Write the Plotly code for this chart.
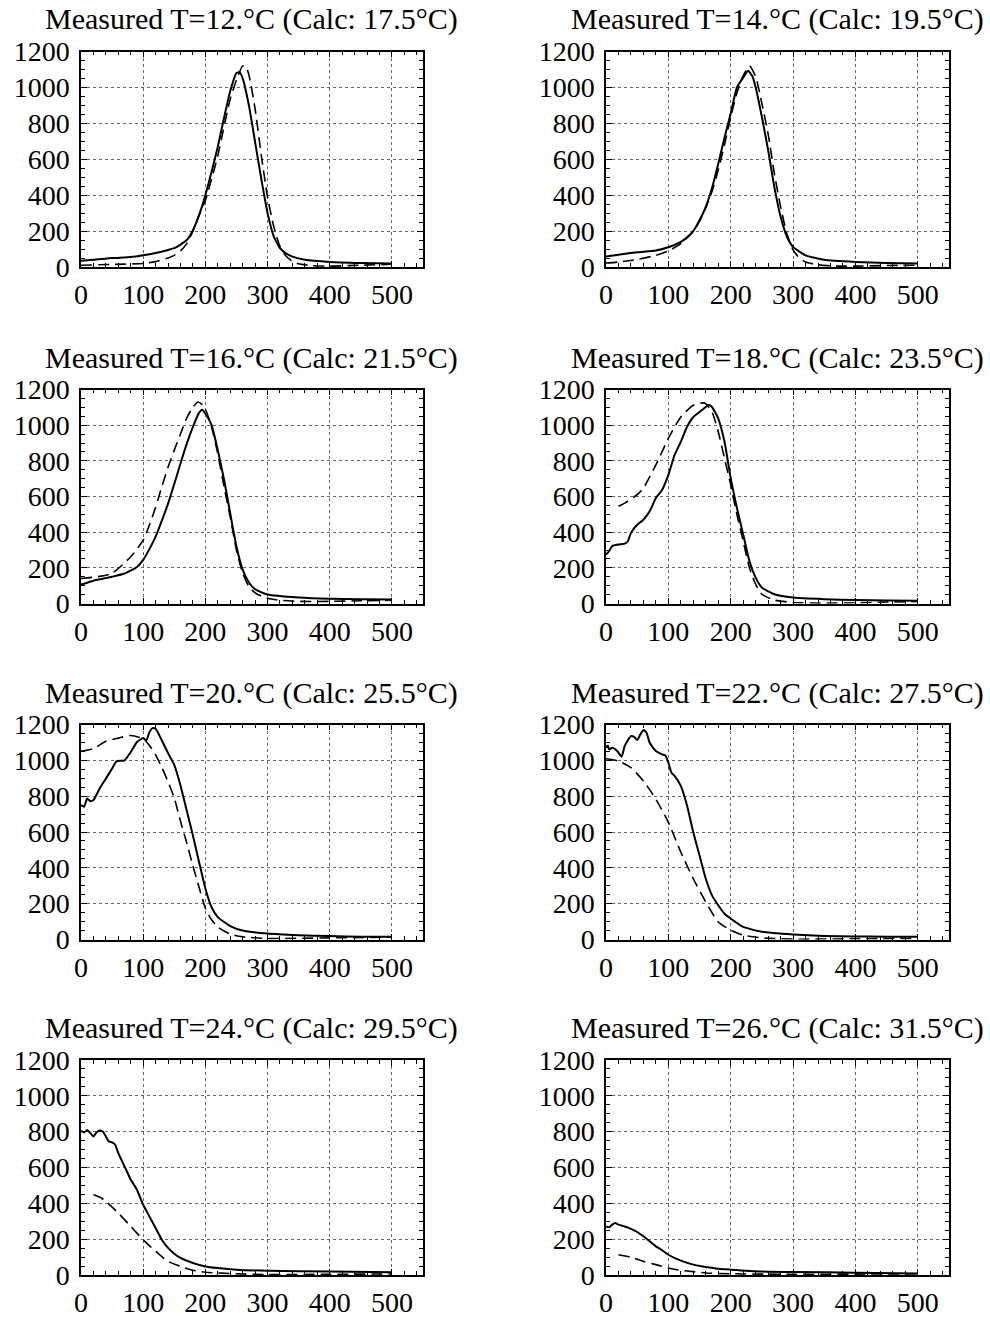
import plotly.graph_objects as go

# ---- titles -------------------------------------------------------------
titles = [
    "Measured T=12.°C (Calc: 17.5°C)",
    "Measured T=14.°C (Calc: 19.5°C)",
    "Measured T=16.°C (Calc: 21.5°C)",
    "Measured T=18.°C (Calc: 23.5°C)",
    "Measured T=20.°C (Calc: 25.5°C)",
    "Measured T=22.°C (Calc: 27.5°C)",
    "Measured T=24.°C (Calc: 29.5°C)",
    "Measured T=26.°C (Calc: 31.5°C)",
]

# ---- measured (solid) and calculated (dashed) profiles ------------------
t12_meas_x = [0, 20, 50, 80, 100, 120, 140, 150, 160, 170, 180, 190, 200, 210, 220, 230, 240, 250, 255, 260,
              270, 280, 290, 300, 310, 320, 330, 340, 360, 400, 450, 500]
t12_meas_y = [35, 40, 50, 55, 65, 78, 95, 105, 125, 150, 205, 290, 400, 530, 670, 830, 980, 1080, 1085, 1050,
              900, 695, 490, 300, 170, 105, 75, 58, 40, 28, 22, 19]
t12_calc_x = [0, 50, 100, 120, 140, 150, 160, 170, 180, 190, 200, 210, 220, 230, 240, 250, 260, 265, 270, 280,
              290, 300, 310, 320, 330, 340, 350, 370, 400, 450, 500]
t12_calc_y = [10, 14, 20, 30, 50, 65, 90, 130, 200, 290, 370, 490, 620, 780, 935, 1040, 1120, 1118, 1070, 880,
              620, 390, 225, 115, 60, 32, 18, 8, 5, 10, 15]

t14_meas_x = [0, 20, 50, 80, 100, 120, 130, 140, 150, 160, 170, 180, 190, 200, 210, 220, 228, 235, 240, 250,
              260, 270, 280, 290, 300, 320, 350, 400, 450, 500]
t14_meas_y = [59, 68, 82, 92, 110, 140, 165, 200, 260, 335, 440, 575, 720, 855, 1000, 1055, 1093, 1060, 1000, 835,
              650, 445, 280, 170, 112, 65, 40, 28, 22, 19]
t14_calc_x = [0, 20, 50, 80, 100, 120, 140, 150, 160, 170, 180, 190, 200, 210, 220, 230, 240, 250, 260, 270,
              280, 290, 300, 310, 320, 340, 370, 400, 450, 500]
t14_calc_y = [22, 28, 42, 65, 90, 130, 200, 255, 330, 420, 540, 680, 835, 970, 1065, 1120, 1060, 910, 740, 520,
              335, 185, 95, 50, 28, 12, 5, 5, 8, 10]

t16_meas_x = [0, 20, 50, 70, 90, 100, 110, 120, 130, 140, 150, 160, 170, 180, 190, 195, 200, 210, 220, 230,
              240, 250, 260, 270, 280, 300, 350, 400, 450, 500]
t16_meas_y = [106, 128, 150, 168, 205, 245, 305, 375, 465, 560, 670, 785, 895, 990, 1070, 1087, 1065, 1000, 860, 695,
              505, 320, 190, 118, 80, 50, 33, 26, 24, 22]
t16_calc_x = [0, 30, 50, 80, 100, 110, 120, 130, 140, 150, 160, 170, 180, 188, 195, 200, 210, 220, 230, 240,
              250, 260, 270, 280, 290, 300, 320, 350, 400, 450, 500]
t16_calc_y = [140, 152, 170, 262, 355, 440, 540, 655, 765, 860, 950, 1040, 1100, 1130, 1115, 1090, 990, 840, 655, 485,
              300, 170, 95, 60, 42, 30, 18, 12, 12, 15, 18]

t18_meas_x = [0, 5, 10, 20, 30, 35, 40, 50, 60, 70, 80, 90, 100, 110, 120, 130, 140, 150, 160, 165,
              170, 180, 190, 200, 210, 220, 230, 240, 250, 270, 300, 350, 400, 450, 500]
t18_meas_y = [275, 294, 322, 331, 336, 349, 396, 442, 470, 517, 591, 637, 721, 833, 907, 991, 1046, 1074, 1102, 1115,
              1102, 1037, 907, 703, 535, 387, 238, 145, 89, 52, 33, 24, 19, 17, 15]
t18_calc_x = [20, 30, 50, 60, 80, 100, 120, 140, 155, 160, 170, 180, 190, 200, 210, 220, 230, 240, 250, 270,
              300, 350, 400, 450, 500]
t18_calc_y = [545, 563, 610, 647, 777, 926, 1046, 1112, 1125, 1120, 1074, 963, 814, 665, 498, 349, 201, 108, 52, 19,
              6, 2, 4, 8, 11]

t20_meas_x = [0, 5, 10, 15, 20, 30, 40, 50, 57, 70, 80, 90, 100, 105, 110, 115, 120, 130, 140, 150,
              160, 170, 180, 190, 200, 210, 220, 240, 260, 300, 350, 400, 450, 500]
t20_meas_y = [750, 741, 787, 772, 778, 843, 898, 954, 994, 1000, 1046, 1102, 1124, 1111, 1157, 1180, 1176, 1111, 1040, 975,
              860, 720, 580, 430, 285, 180, 125, 75, 50, 33, 24, 19, 16, 15]
t20_calc_x = [0, 20, 40, 60, 80, 100, 110, 120, 130, 140, 150, 160, 170, 180, 190, 200, 210, 220, 240, 260,
              300, 400, 500]
t20_calc_y = [1050, 1065, 1106, 1124, 1139, 1120, 1083, 1030, 960, 880, 790, 660, 540, 410, 290, 175, 110, 70, 30, 15,
              6, 9, 13]

t22_meas_x = [0, 3, 5, 10, 15, 20, 25, 30, 40, 45, 50, 55, 60, 65, 70, 80, 90, 95, 100, 105,
              110, 120, 130, 140, 150, 160, 170, 180, 190, 200, 220, 250, 300, 350, 400, 450, 500]
t22_meas_y = [1070, 1083, 1061, 1070, 1061, 1043, 1020, 1080, 1135, 1131, 1113, 1144, 1169, 1154, 1098, 1052, 1033, 1028, 987, 931,
              913, 857, 746, 598, 469, 339, 246, 191, 144, 117, 70, 43, 28, 20, 17, 16, 15]
t22_calc_x = [0, 20, 40, 60, 80, 100, 120, 140, 160, 180, 200, 220, 250, 300, 400, 500]
t22_calc_y = [1009, 996, 959, 885, 783, 654, 487, 339, 209, 98, 52, 24, 9, 2, 4, 6]

t24_meas_x = [0, 5, 10, 15, 20, 25, 30, 35, 40, 45, 50, 55, 60, 70, 80, 90, 100, 110, 120, 130,
              140, 150, 160, 180, 200, 220, 250, 300, 400, 500]
t24_meas_y = [805, 796, 810, 792, 773, 796, 807, 801, 773, 745, 740, 727, 680, 606, 532, 476, 392, 327, 262, 197,
              151, 119, 95, 67, 48, 39, 30, 24, 19, 15]
t24_calc_x = [20, 30, 40, 60, 80, 100, 120, 140, 160, 180, 200, 250, 300, 400, 500]
t24_calc_y = [448, 435, 411, 346, 271, 197, 132, 76, 48, 26, 15, 7, 2, 4, 6]

t26_meas_x = [0, 5, 10, 15, 20, 30, 40, 50, 60, 70, 80, 90, 100, 120, 140, 160, 180, 200, 250, 300, 400, 500]
t26_meas_y = [271, 266, 281, 290, 281, 271, 257, 240, 216, 188, 160, 138, 113, 80, 58, 45, 35, 30, 20, 17, 13, 9]
t26_calc_x = [20, 40, 60, 80, 100, 120, 140, 160, 200, 300, 400, 500]
t26_calc_y = [113, 100, 76, 58, 39, 26, 19, 11, 7, 4, 5, 7]

panels = [
    (t12_meas_x, t12_meas_y, t12_calc_x, t12_calc_y),
    (t14_meas_x, t14_meas_y, t14_calc_x, t14_calc_y),
    (t16_meas_x, t16_meas_y, t16_calc_x, t16_calc_y),
    (t18_meas_x, t18_meas_y, t18_calc_x, t18_calc_y),
    (t20_meas_x, t20_meas_y, t20_calc_x, t20_calc_y),
    (t22_meas_x, t22_meas_y, t22_calc_x, t22_calc_y),
    (t24_meas_x, t24_meas_y, t24_calc_x, t24_calc_y),
    (t26_meas_x, t26_meas_y, t26_calc_x, t26_calc_y),
]

# ---- page geometry (pixels) ---------------------------------------------
W, H = 990, 1319
col_px = [(81, 423), (606, 949)]
row_px = [(51.5, 267), (389.5, 603.5), (724.5, 939.5), (1060, 1275)]

FONT = "Liberation Serif, Times New Roman, serif"
TITLE_FS = 30
TICK_FS = 28

fig = go.Figure()
layout_axes = {}
annotations = []

for i, (mx, my, cx, cy) in enumerate(panels):
    r, c = divmod(i, 2)
    n = i + 1
    xa = "x" if n == 1 else f"x{n}"
    ya = "y" if n == 1 else f"y{n}"

    fig.add_trace(go.Scatter(x=cx, y=cy, xaxis=xa, yaxis=ya, mode="lines",
                             line=dict(color="black", width=1.6, dash="11px,6px", shape="spline", smoothing=0.6),
                             showlegend=False, hoverinfo="skip"))
    fig.add_trace(go.Scatter(x=mx, y=my, xaxis=xa, yaxis=ya, mode="lines",
                             line=dict(color="black", width=2, shape="spline", smoothing=0.5),
                             showlegend=False, hoverinfo="skip"))

    x0, x1 = col_px[c]
    y0, y1 = row_px[r]
    xdom = [x0 / W, x1 / W]
    ydom = [1 - y1 / H, 1 - y0 / H]

    common = dict(
        showline=True, linecolor="black", linewidth=1.5, mirror="allticks",
        ticks="inside", ticklen=6, tickwidth=1.2, tickcolor="black",
        showgrid=True, gridcolor="#666666", gridwidth=1, griddash="dot",
        zeroline=False, automargin=False,
        tickfont=dict(family=FONT, size=TICK_FS, color="black"),
        fixedrange=True,
    )
    xkey = "xaxis" if n == 1 else f"xaxis{n}"
    ykey = "yaxis" if n == 1 else f"yaxis{n}"
    layout_axes[xkey] = dict(
        common, domain=xdom, anchor=ya, range=[0, 550], tick0=0, dtick=100,
        ticklabelstandoff=2,
        minor=dict(dtick=20, ticks="inside", ticklen=4, tickwidth=1, tickcolor="black", showgrid=False),
    )
    layout_axes[ykey] = dict(
        common, domain=ydom, anchor=xa, range=[0, 1200], tick0=0, dtick=200,
        ticklabelstandoff=4,
        minor=dict(dtick=50, ticks="inside", ticklen=4, tickwidth=1, tickcolor="black", showgrid=False),
    )

    annotations.append(dict(
        text=titles[i], xref="paper", yref="paper",
        x=(x0 + x1) / 2 / W, y=1 - (y0 - 32) / H,
        xanchor="center", yanchor="middle", showarrow=False,
        font=dict(family=FONT, size=TITLE_FS, color="black"),
    ))

fig.update_layout(
    width=W, height=H,
    margin=dict(l=0, r=0, t=0, b=0, autoexpand=False),
    paper_bgcolor="white", plot_bgcolor="white",
    annotations=annotations,
    **layout_axes,
)

fig.write_html("out.html", config={"displayModeBar": False})
